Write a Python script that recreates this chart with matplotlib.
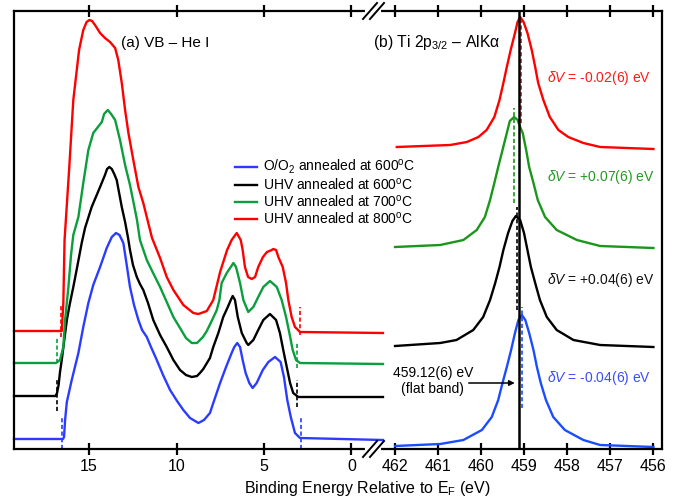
import matplotlib
matplotlib.use('Agg')
import matplotlib.pyplot as plt
from matplotlib.lines import Line2D

plt.rcParams['font.family'] = ['Liberation Sans', 'DejaVu Sans']
plt.rcParams['mathtext.fontset'] = 'custom'
plt.rcParams['mathtext.rm'] = 'Liberation Sans'
plt.rcParams['mathtext.it'] = 'Liberation Sans:italic'
plt.rcParams['mathtext.bf'] = 'Liberation Sans:bold'

# ---------------- data: (a) valence band, He I (binding energy eV, offset intensity) -------------
vb_red_E = [19.29, 16.56, 16.47, 16.40, 16.13, 15.90, 15.57, 15.33, 15.14, 14.98, 14.83, 14.66, 14.37,
            14.09, 13.80, 13.51, 13.33, 13.13, 12.94, 12.75, 12.47, 12.18, 11.90, 11.63, 11.40, 10.94,
            10.56, 10.18, 9.61, 9.04, 8.75, 8.27, 7.90, 7.51, 7.42, 7.11, 6.85, 6.56, 6.33, 6.22, 6.09,
            5.91, 5.70, 5.51, 5.33, 5.06, 4.83, 4.56, 4.47, 4.31, 4.18, 3.93, 3.74, 3.61, 3.42, 3.23,
            2.94, -1.8]
vb_red_I = [118, 118, 146, 209, 282, 349, 399, 419, 427, 429, 428, 424, 416,
            411, 407, 401, 389, 366, 339, 316, 289, 262, 246, 227, 211, 191,
            172, 159, 144, 136, 135, 138, 149, 177, 182, 199, 209, 216, 209, 199, 182,
            172, 170, 172, 182, 192, 197, 199, 200, 199, 192, 182, 166, 149, 132, 122,
            117, 116]

vb_green_E = [19.29, 16.89, 16.66, 16.47, 16.37, 16.18, 16.03, 15.90, 15.61, 15.33, 15.04, 14.76, 14.27,
              14.14, 13.93, 13.74, 13.51, 13.23, 12.94, 12.66, 12.43, 12.26, 12.09, 11.70, 11.34, 10.94,
              10.56, 10.18, 9.80, 9.46, 9.13, 8.83, 8.49, 8.27, 7.91, 7.70, 7.55, 7.42, 7.13, 6.90, 6.75,
              6.60, 6.37, 6.18, 5.90, 5.61, 5.33, 5.04, 4.66, 4.27, 3.99, 3.74, 3.55, 3.36, 3.17, 2.94,
              -1.8]
vb_green_I = [86, 86, 89, 102, 129, 162, 194, 214, 232, 266, 299, 316, 327,
              335, 339, 335, 329, 309, 284, 264, 244, 229, 209, 189, 176, 162,
              147, 132, 121, 111, 106, 106, 112, 118, 131, 139, 149, 166, 176, 182, 186,
              182, 166, 149, 137, 142, 152, 162, 168, 162, 149, 132, 116, 99, 89, 86,
              85]

vb_black_E = [19.29, 16.91, 16.83, 16.74, 16.66, 16.56, 16.43, 16.27, 16.09, 15.90, 15.69, 15.42, 15.23,
              14.85, 14.37, 14.09, 13.97, 13.84, 13.70, 13.56, 13.42, 13.13, 12.94, 12.77, 12.66, 12.49,
              12.27, 12.09, 11.90, 11.63, 11.33, 10.94, 10.56, 10.18, 9.80, 9.46, 9.13, 8.83, 8.66, 8.47,
              8.09, 7.90, 7.61, 7.33, 7.07, 6.90, 6.79, 6.66, 6.50, 6.27, 5.99, 5.90, 5.61, 5.33, 5.04,
              4.66, 4.31, 4.09, 3.90, 3.70, 3.51, 3.33, 3.04, -1.8]
vb_black_I = [53, 53, 56, 64, 77, 89, 107, 129, 146, 162, 181, 206, 221,
              242, 262, 274, 280, 282, 280, 275, 269, 242, 227, 211, 199, 184,
              172, 165, 159, 146, 129, 114, 102, 89, 79, 74, 72, 73, 76, 80,
              91, 102, 116, 132, 142, 149, 153, 149, 132, 116, 106, 104, 109, 119, 129,
              135, 129, 116, 99, 82, 66, 56, 52, 52]

vb_blue_E = [19.29, 16.49, 16.43, 16.37, 16.27, 15.99, 15.61, 15.33, 15.04, 14.76, 14.37, 13.99, 13.70,
             13.46, 13.26, 13.04, 12.89, 12.66, 12.43, 12.18, 11.97, 11.70, 11.46, 11.13, 10.77, 10.37,
             9.97, 9.61, 9.23, 8.75, 8.43, 8.09, 7.90, 7.51, 7.17, 6.85, 6.70, 6.53, 6.37, 6.22, 6.05,
             5.84, 5.65, 5.42, 5.07, 4.75, 4.37, 4.05, 3.86, 3.67, 3.47, 3.23, 2.94, -1.8]
vb_blue_I = [10, 10, 12, 29, 47, 69, 96, 122, 146, 164, 182, 201, 212,
             216, 214, 206, 189, 162, 144, 129, 119, 112, 102, 89, 74, 59,
             48, 39, 31, 26, 29, 36, 46, 66, 82, 96, 102, 106, 102, 89, 76,
             66, 61, 66, 79, 87, 92, 87, 72, 49, 32, 16, 11, 9]

# onset / cutoff markers: (E_low_side, E_high_side) and intensity spans
vb_marks_E = {'blue': (16.56, 2.89), 'black': (16.85, 3.13), 'green': (16.81, 3.10), 'red': (16.62, 2.94)}
vb_marks_I = {'blue': ((0, 32), (0, 31)), 'black': ((38, 69), (42, 69)),
              'green': ((86, 111), (81, 107)), 'red': ((112, 144), (114, 142))}

# ---------------- data: (b) Ti 2p3/2, Al Ka ---------------------------------------------------
ti_red_E = [461.96, 460.72, 460.33, 460.06, 459.87, 459.69, 459.57, 459.48, 459.40, 459.31, 459.21,
            459.15, 459.09, 459.01, 458.92, 458.82, 458.74, 458.67, 458.55, 458.40, 458.20, 457.97,
            457.62, 457.23, 455.99]
ti_red_I = [302, 304, 307, 312, 319, 332, 349, 366, 382, 399, 416, 427, 432, 427, 416, 399, 382, 366,
            349, 332, 319, 312, 306, 302, 300]

ti_green_E = [462.00, 460.95, 460.41, 460.10, 459.91, 459.79, 459.69, 459.60, 459.50, 459.40, 459.33,
              459.23, 459.15, 459.09, 459.03, 458.95, 458.88, 458.78, 458.68, 458.51, 458.24, 457.77,
              457.23, 455.99]
ti_green_I = [202, 204, 209, 219, 232, 249, 266, 282, 299, 316, 328, 332, 329, 322, 316, 299, 282, 266,
              249, 232, 219, 209, 203, 201]

ti_black_E = [462.00, 460.95, 460.57, 460.18, 459.95, 459.79, 459.67, 459.57, 459.48, 459.37, 459.27,
              459.19, 459.09, 459.00, 458.92, 458.84, 458.74, 458.63, 458.47, 458.24, 457.85, 457.23,
              455.99]
ti_black_I = [103, 106, 109, 119, 132, 149, 166, 182, 199, 216, 228, 233, 229, 216, 199, 182, 166, 149,
              132, 119, 109, 104, 102]

ti_blue_E = [462.00, 460.95, 460.41, 459.98, 459.75, 459.60, 459.50, 459.40, 459.30, 459.21, 459.13,
             459.05, 458.97, 458.88, 458.78, 458.70, 458.61, 458.49, 458.32, 458.05, 457.62, 457.23,
             455.99]
ti_blue_I = [3, 5, 9, 19, 32, 49, 66, 82, 99, 116, 129, 134, 129, 116, 99, 82, 66, 49, 32, 19, 9, 4, 2]

ti_peak_E = {'red': 459.07, 'green': 459.23, 'black': 459.17, 'blue': 459.04}
ti_peak_I = {'red': (326, 429), 'green': (246, 341), 'black': (139, 242), 'blue': (41, 142)}
flat_band = 459.12

labels = {'blue': 'O/O$_2$ annealed at 600$^{\\rm o}$C',
          'black': 'UHV annealed at 600$^{\\rm o}$C',
          'green': 'UHV annealed at 700$^{\\rm o}$C',
          'red': 'UHV annealed at 800$^{\\rm o}$C'}
dv_text = {'red': '-0.02(6) eV', 'green': '+0.07(6) eV', 'black': '+0.04(6) eV', 'blue': '-0.04(6) eV'}
dv_pos_I = {'red': 371, 'green': 272, 'black': 169, 'blue': 71}

left_ticks = [15, 10, 5, 0]
right_ticks = [462, 461, 460, 459, 458, 457, 456]

colors = {'red': '#ff0000', 'green': '#0a9e3c', 'black': '#000000', 'blue': '#2b3cff'}
colors_b = {'red': '#ff0000', 'green': '#1a961a', 'black': '#000000', 'blue': '#1a4dff'}
text_colors = {'red': '#ff1a1a', 'green': '#229a22', 'black': '#111111', 'blue': '#3a4cff'}

# ---------------- figure -----------------------------------------------------------------------
W, H = 674, 500
fig = plt.figure(figsize=(W / 100, H / 100), dpi=100)
axL = fig.add_axes([14 / W, 51 / H, 366 / W, 438 / H])
axR = fig.add_axes([380 / W, 51 / H, 282 / W, 438 / H])
axR.patch.set_visible(False)

vb = {'blue': (vb_blue_E, vb_blue_I), 'black': (vb_black_E, vb_black_I),
      'green': (vb_green_E, vb_green_I), 'red': (vb_red_E, vb_red_I)}
ti = {'blue': (ti_blue_E, ti_blue_I), 'black': (ti_black_E, ti_black_I),
      'green': (ti_green_E, ti_green_I), 'red': (ti_red_E, ti_red_I)}

lw = 1.7
handles = []
for key in ['blue', 'black', 'green', 'red']:
    E, I = vb[key]
    h, = axL.plot(E, I, color=colors[key], lw=lw, label=labels[key], solid_joinstyle='round',
                  clip_on=False)
    handles.append(h)
    (e1, e2) = vb_marks_E[key]
    (s1, s2) = vb_marks_I[key]
    axL.plot([e1, e1], s1, color=colors[key], lw=1.2, ls=(0, (2.5, 1.5)))
    axL.plot([e2, e2], s2, color=colors[key], lw=1.2, ls=(0, (2.5, 1.5)))

for key in ['blue', 'black', 'green', 'red']:
    E, I = ti[key]
    axR.plot(E, I, color=colors_b[key], lw=lw, solid_joinstyle='round')
    axR.plot([ti_peak_E[key]] * 2, ti_peak_I[key], color=colors_b[key], lw=1.2, ls=(0, (2.5, 1.5)))
    axR.text(458.47, dv_pos_I[key], '$\\delta V$ = ' + dv_text[key], color=text_colors[key],
             fontsize=10, ha='left', va='center')

axR.axvline(flat_band, color='black', lw=1.8)
axR.annotate('', xy=(459.15, 66), xytext=(460.35, 66),
             arrowprops=dict(arrowstyle='-|>', color='black', lw=1.1, mutation_scale=8))
axR.text(461.12, 68, '459.12(6) eV\n(flat band)', fontsize=10, ha='center', va='center',
         linespacing=1.1)

axL.set_xlim(19.29, -1.63)
axR.set_xlim(462.35, 455.79)
for ax in (axL, axR):
    ax.set_ylim(0, 438)
    ax.set_yticks([])
    ax.tick_params(axis='x', which='both', direction='inout', length=9, width=1.6,
                   top=True, bottom=True, labeltop=False, labelsize=11.5, pad=3)
    for sp in ax.spines.values():
        sp.set_linewidth(1.6)
axL.set_xticks(left_ticks)
axR.set_xticks(right_ticks)
axL.spines['right'].set_visible(False)
axR.spines['left'].set_visible(False)

leg = axL.legend(handles=handles, loc='upper left', bbox_to_anchor=((235 - 14) / 366, (449 - 158) / 438),
                 frameon=False, fontsize=10, handlelength=1.6, handletextpad=0.45, labelspacing=0.05,
                 borderaxespad=0, borderpad=0)
leg.set_zorder(20)

fig.text(121 / W, 1 - 43 / H, '(a) VB \u2013 He I', fontsize=11, ha='left', va='center')
fig.text(373 / W, 1 - 43 / H, '(b) Ti 2p$_{3/2}$ \u2013 AlK\u03b1', fontsize=11.3, ha='left', va='center')
fig.text(367 / W, 1 - 489 / H, 'Binding Energy Relative to E$_{\\rm F}$ (eV)', fontsize=11.5,
         ha='center', va='center')

# axis break marks
for ypix in (11, 449):
    fig.add_artist(Line2D([367 / W, 379 / W], [1 - ypix / H] * 2, color='white', lw=3,
                          transform=fig.transFigure, zorder=10))
    for dx in (0, 7):
        x0, x1 = 363 + dx, 377 + dx
        fig.add_artist(Line2D([x0 / W, x1 / W], [1 - (ypix + 8) / H, 1 - (ypix - 8) / H],
                              color='black', lw=1.4, transform=fig.transFigure, zorder=11))

fig.savefig('out.png', dpi=100)
